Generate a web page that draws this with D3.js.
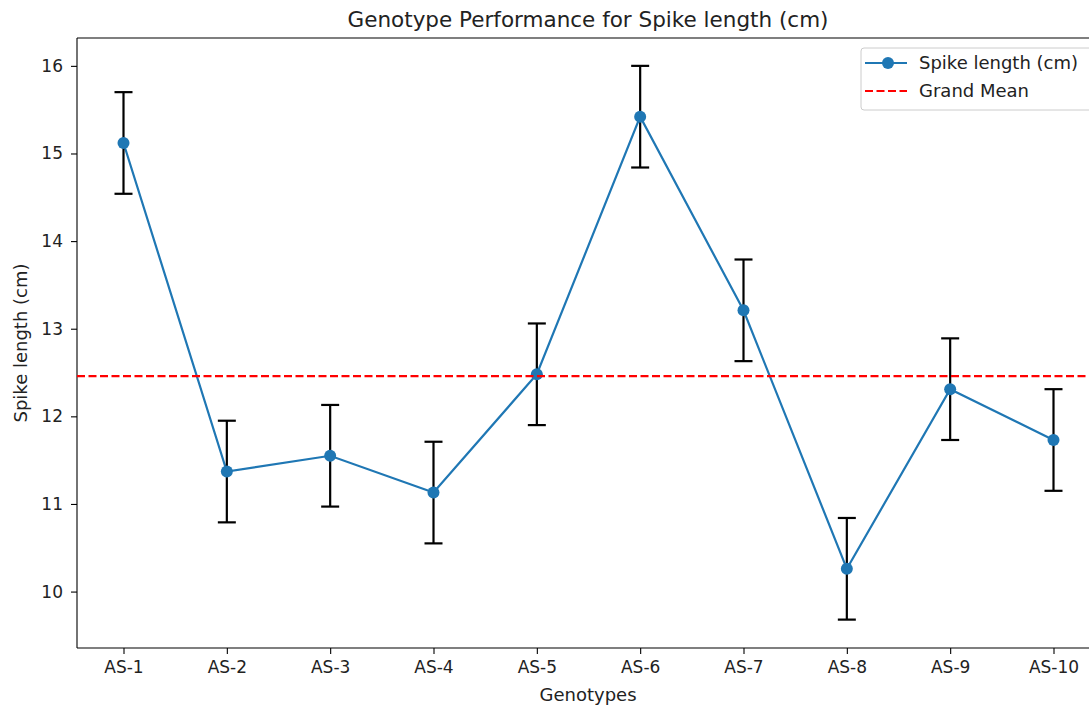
<!DOCTYPE html>
<html>
<head>
<meta charset="utf-8">
<script src="https://cdn.jsdelivr.net/npm/d3@7"></script>
<style>
  body { margin: 0; background: #fff; overflow: hidden; }
  svg { font-family: "DejaVu Sans", sans-serif; display: block; }
</style>
</head>
<body>
<div id="chart"></div>
<script>
// genotype labels and the mean spike length for each one
var genotypes = ["AS-1", "AS-2", "AS-3", "AS-4", "AS-5", "AS-6", "AS-7", "AS-8", "AS-9", "AS-10"];
var spikeLength = [15.12, 11.37, 11.55, 11.13, 12.48, 15.42, 13.21, 10.26, 12.31, 11.73];
var errors = [0.58, 0.58, 0.58, 0.58, 0.58, 0.58, 0.58, 0.58, 0.58, 0.58];
var yTicks = [10, 11, 12, 13, 14, 15, 16];
var grandMean = d3.mean(spikeLength);

var svgWidth = 1089, svgHeight = 711;
var margin = { top: 38, bottom: 63, left: 77, right: -11 };
var width = svgWidth - margin.left - margin.right;
var height = svgHeight - margin.top - margin.bottom;

var svg = d3.select("#chart").append("svg")
  .attr("width", svgWidth)
  .attr("height", svgHeight);

var chartGroup = svg.append("g")
  .attr("transform", `translate(${margin.left}, ${margin.top})`);

var data = genotypes.map(function(g, i) {
  return { name: g, i: i, value: spikeLength[i], err: errors[i] };
});

// scales
var xScale = d3.scaleLinear()
  .domain([-0.45, genotypes.length - 1 + 0.45])
  .range([0, width]);

var yScale = d3.scaleLinear()
  .domain([9.356, 16.318])
  .range([height, 0]);

// axes
var xAxis = d3.axisBottom(xScale)
  .tickValues(d3.range(genotypes.length))
  .tickFormat(function(d) { return genotypes[d]; })
  .tickSize(6).tickPadding(7);
var yAxis = d3.axisLeft(yScale)
  .tickValues(yTicks)
  .tickFormat(d3.format("d"))
  .tickSize(6).tickPadding(8);

var gx = chartGroup.append("g")
  .attr("transform", `translate(0, ${height})`)
  .call(xAxis);
var gy = chartGroup.append("g").call(yAxis);
[gx, gy].forEach(function(g) {
  g.select(".domain").remove();
  g.attr("font-family", null).attr("font-size", null);
  g.selectAll(".tick line").attr("stroke", "#000").attr("stroke-width", 1.1);
  g.selectAll(".tick text").attr("font-size", "17px").attr("fill", "#222");
});

// spines (right one falls outside the picture)
chartGroup.append("line")
  .attr("x1", 0).attr("x2", 0).attr("y1", 0).attr("y2", height)
  .attr("stroke", "#000").attr("stroke-width", 1.1);
chartGroup.append("line")
  .attr("x1", 0).attr("x2", width).attr("y1", 0).attr("y2", 0)
  .attr("stroke", "#000").attr("stroke-width", 1.1);
chartGroup.append("line")
  .attr("x1", 0).attr("x2", width).attr("y1", height).attr("y2", height)
  .attr("stroke", "#000").attr("stroke-width", 1.1);

// line
var line = d3.line()
  .x(function(d) { return xScale(d.i); })
  .y(function(d) { return yScale(d.value); });

chartGroup.append("path")
  .datum(data)
  .attr("d", line)
  .attr("fill", "none")
  .attr("stroke", "#1f77b4")
  .attr("stroke-width", 2.2);

// error bars
var bars = chartGroup.selectAll(".err")
  .data(data)
  .enter()
  .append("g")
  .attr("class", "err");
bars.append("line")
  .attr("x1", d => xScale(d.i)).attr("x2", d => xScale(d.i))
  .attr("y1", d => yScale(d.value - d.err)).attr("y2", d => yScale(d.value + d.err))
  .attr("stroke", "#000").attr("stroke-width", 2.2);
bars.append("line")
  .attr("x1", d => xScale(d.i) - 9).attr("x2", d => xScale(d.i) + 9)
  .attr("y1", d => yScale(d.value + d.err)).attr("y2", d => yScale(d.value + d.err))
  .attr("stroke", "#000").attr("stroke-width", 2.2);
bars.append("line")
  .attr("x1", d => xScale(d.i) - 9).attr("x2", d => xScale(d.i) + 9)
  .attr("y1", d => yScale(d.value - d.err)).attr("y2", d => yScale(d.value - d.err))
  .attr("stroke", "#000").attr("stroke-width", 2.2);

// points
chartGroup.selectAll("circle.pt")
  .data(data)
  .enter()
  .append("circle")
  .attr("class", "pt")
  .attr("cx", d => xScale(d.i))
  .attr("cy", d => yScale(d.value))
  .attr("r", 6)
  .attr("fill", "#1f77b4");

// grand mean
chartGroup.append("line")
  .attr("x1", 0).attr("x2", width)
  .attr("y1", yScale(grandMean)).attr("y2", yScale(grandMean))
  .attr("stroke", "#ff0000")
  .attr("stroke-width", 2.2)
  .attr("stroke-dasharray", "8,3.5");

// title and axis labels
svg.append("text")
  .attr("x", 588).attr("y", 27)
  .attr("text-anchor", "middle")
  .attr("font-size", "21.5px")
  .attr("fill", "#222")
  .text("Genotype Performance for Spike length (cm)");

svg.append("text")
  .attr("x", 588).attr("y", 701)
  .attr("text-anchor", "middle")
  .attr("font-size", "18px")
  .attr("fill", "#222")
  .text("Genotypes");

svg.append("text")
  .attr("transform", "rotate(-90)")
  .attr("x", -(margin.top + height / 2)).attr("y", 27)
  .attr("text-anchor", "middle")
  .attr("font-size", "18px")
  .attr("fill", "#222")
  .text("Spike length (cm)");

// legend
var legend = svg.append("g").attr("transform", "translate(861, 48)");
legend.append("rect")
  .attr("width", 240).attr("height", 62)
  .attr("rx", 3)
  .attr("fill", "#fff").attr("fill-opacity", 0.8)
  .attr("stroke", "#ccc");
legend.append("line")
  .attr("x1", 4).attr("x2", 46).attr("y1", 15).attr("y2", 15)
  .attr("stroke", "#1f77b4").attr("stroke-width", 2.2);
legend.append("circle")
  .attr("cx", 27).attr("cy", 15).attr("r", 6).attr("fill", "#1f77b4");
legend.append("text")
  .attr("x", 58).attr("y", 21)
  .attr("font-size", "18px").attr("fill", "#222")
  .text("Spike length (cm)");
legend.append("line")
  .attr("x1", 4).attr("x2", 46).attr("y1", 43).attr("y2", 43)
  .attr("stroke", "#ff0000").attr("stroke-width", 2.2)
  .attr("stroke-dasharray", "8,3.5");
legend.append("text")
  .attr("x", 58).attr("y", 49)
  .attr("font-size", "18px").attr("fill", "#222")
  .text("Grand Mean");
</script>
</body>
</html>
